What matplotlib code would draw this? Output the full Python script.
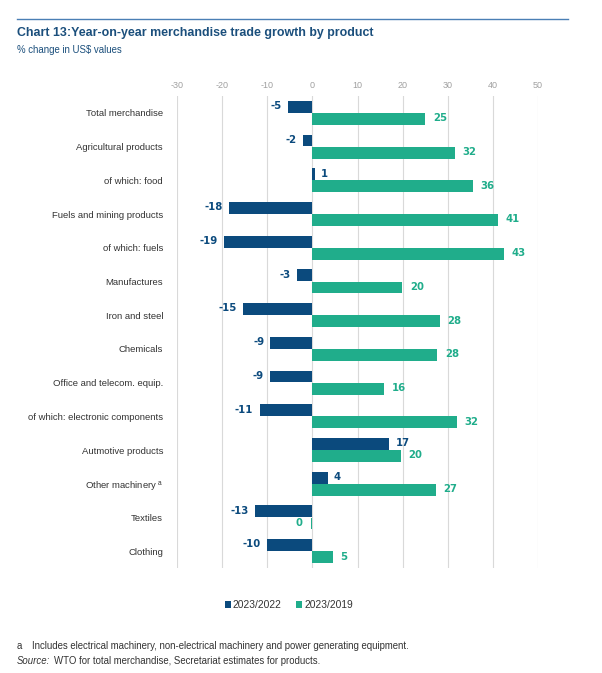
import matplotlib.pyplot as plt
import numpy as np

plt.rcParams['font.family'] = ['Liberation Sans', 'DejaVu Sans']

# categories, top to bottom
categories = [
    "Total merchandise", "Agricultural products", "of which: food",
    "Fuels and mining products", "of which: fuels", "Manufactures",
    "Iron and steel", "Chemicals", "Office and telecom. equip.",
    "of which: electronic components", "Autmotive products",
    "Other machinery $^{\\mathregular{a}}$", "Textiles", "Clothing",
]
# bar lengths
growth_2023_2022 = [-5.3, -2.0, 0.5, -18.4, -19.5, -3.5, -15.3, -9.3, -9.5, -11.7, 17.0, 3.4, -12.7, -10.0]
growth_2023_2019 = [25.0, 31.5, 35.5, 41.2, 42.5, 19.9, 28.3, 27.7, 15.9, 32.0, 19.6, 27.3, -0.4, 4.5]
# printed labels
labels_2023_2022 = ["-5", "-2", "1", "-18", "-19", "-3", "-15", "-9", "-9", "-11", "17", "4", "-13", "-10"]
labels_2023_2019 = ["25", "32", "36", "41", "43", "20", "28", "28", "16", "32", "20", "27", "0", "5"]
x_ticks = [-30, -20, -10, 0, 10, 20, 30, 40, 50]

navy = "#0b4a7d"
green = "#20ad8b"
title_blue = "#1b4f7c"
text_grey = "#333333"

fig = plt.figure(figsize=(6.02, 6.73), dpi=100)
W, H = 602, 673
ax = fig.add_axes([177 / W, 1 - 568 / H, (538 - 177) / W, (568 - 96) / H])

y = np.arange(len(categories))
h = 0.355
off = 0.18
ax.barh(y - off, growth_2023_2022, height=h, color=navy, label="2023/2022")
ax.barh(y + off, growth_2023_2019, height=h, color=green, label="2023/2019")

# value labels
for i in range(len(categories)):
    v = growth_2023_2022[i]
    ax.annotate(labels_2023_2022[i], (v, y[i] - off), xytext=(4.5 if v >= 0 else -4.5, 0.5),
                textcoords="offset points", ha="left" if v >= 0 else "right", va="center",
                fontsize=7.3, fontweight="bold", color=navy, family="DejaVu Sans")
    v = growth_2023_2019[i]
    ax.annotate(labels_2023_2019[i], (v, y[i] + off), xytext=(5.5 if v >= 0 else -5.5, 0.5),
                textcoords="offset points", ha="left" if v >= 0 else "right", va="center",
                fontsize=7.3, fontweight="bold", color=green, family="DejaVu Sans")

ax.set_xlim(-30, 50)
ax.set_ylim(len(categories) - 0.5, -0.5)
ax.set_xticks(x_ticks)
ax.set_xticklabels([str(t) for t in x_ticks])
ax.xaxis.tick_top()
ax.tick_params(axis="x", length=0, pad=4, labelsize=6.5, labelcolor="#a0a0a0")
ax.set_yticks(y)
ax.set_yticklabels(categories)
ax.tick_params(axis="y", length=0, pad=10, labelsize=6.8, labelcolor=text_grey)
ax.grid(axis="x", color="#d9d9d9", linewidth=0.8)
ax.set_axisbelow(True)
for s in ax.spines.values():
    s.set_visible(False)

leg = ax.legend(loc="center", bbox_to_anchor=(289 / W, 1 - 605 / H), bbox_transform=fig.transFigure,
                ncol=2, frameon=False, fontsize=7.4, handlelength=0.6, handleheight=0.6,
                handletextpad=0.2, columnspacing=1.4, labelcolor=text_grey)

# header
fig.add_artist(plt.Line2D([17 / W, 568 / W], [1 - 19 / H, 1 - 19 / H], color="#4a7fb5", linewidth=1.0))
fig.text(17 / W, 1 - 33 / H, "Chart 13:Year-on-year merchandise trade growth by product",
         fontsize=8.9, fontweight="bold", color=title_blue, va="center")
fig.text(17 / W, 1 - 50 / H, "% change in US$ values", fontsize=6.9, color=title_blue, va="center")

# footnotes
fig.text(17 / W, 1 - 646 / H, "a", fontsize=6.9, color=text_grey, va="center")
fig.text(32 / W, 1 - 646 / H, "Includes electrical machinery, non-electrical machinery and power generating equipment.",
         fontsize=6.9, color=text_grey, va="center")
fig.text(17 / W, 1 - 661 / H, "Source:", fontsize=6.9, color=text_grey, va="center", style="italic")
fig.text(54 / W, 1 - 661 / H, "WTO for total merchandise, Secretariat estimates for products.",
         fontsize=6.9, color=text_grey, va="center")

fig.savefig("out.png", dpi=100)
